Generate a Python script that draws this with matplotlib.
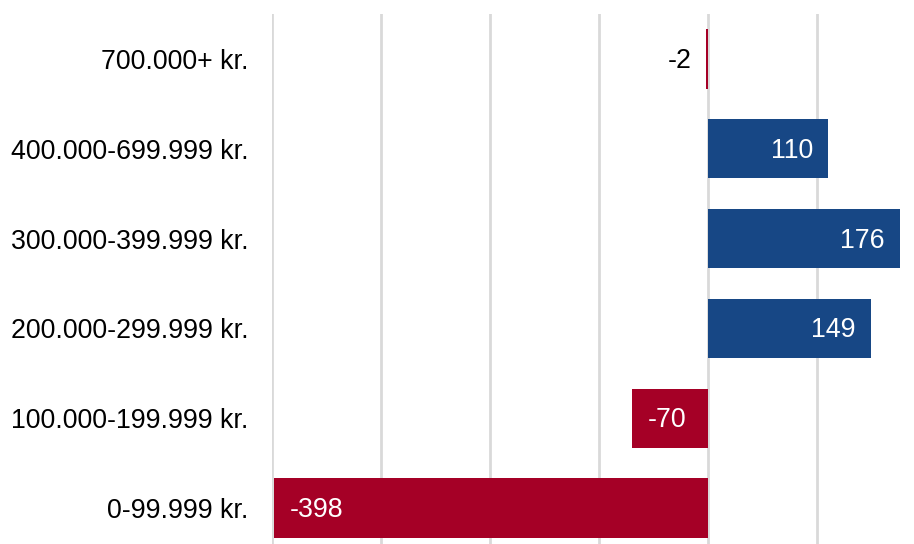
import matplotlib
matplotlib.use("Agg")
import matplotlib.pyplot as plt

categories = ["0-99.999 kr.", "100.000-199.999 kr.", "200.000-299.999 kr.",
              "300.000-399.999 kr.", "400.000-699.999 kr.", "700.000+ kr."]
values = [-398, -70, 149, 176, 110, -2]
grid_ticks = [-400, -300, -200, -100, 0, 100]

BLUE = "#174785"
RED = "#A50026"

plt.rcParams['font.family'] = ['Liberation Sans', 'DejaVu Sans']
W, H = 914, 544
fig = plt.figure(figsize=(W / 100, H / 100), dpi=100)
ax = fig.add_axes([272 / W, 0, (900 - 272) / W, (544 - 14) / H])

ypos = list(range(len(categories)))
colors = [BLUE if v > 0 else RED for v in values]
ax.barh(ypos, values, height=0.66, color=colors, zorder=3)

ax.set_xlim(-400, 176)
ax.set_ylim(-0.4, 5.5)
ax.set_xticks(grid_ticks)
ax.set_xticklabels([])
ax.tick_params(axis='x', length=0)
ax.tick_params(axis='y', length=0, pad=17, labelsize=19.3)
ax.set_yticks(ypos)
ax.set_yticklabels(categories)
ax.grid(axis='x', color='#D9D9D9', linewidth=2, zorder=0)
for s in ax.spines.values():
    s.set_visible(False)

for y, v in zip(ypos, values):
    if v > 0:
        ax.annotate(str(v), (v, y), xytext=(-15, -2), textcoords='offset pixels',
                    ha='right', va='center', color='white', fontsize=19.3, zorder=4)
    elif v < -20:
        ax.annotate(str(v), (v, y), xytext=(16, -2), textcoords='offset pixels',
                    ha='left', va='center', color='white', fontsize=19.3, zorder=4)
    else:
        ax.annotate(str(v), (v, y), xytext=(-14, -2), textcoords='offset pixels',
                    ha='right', va='center', color='black', fontsize=19.3, zorder=4)

fig.savefig("out.png", dpi=100)
